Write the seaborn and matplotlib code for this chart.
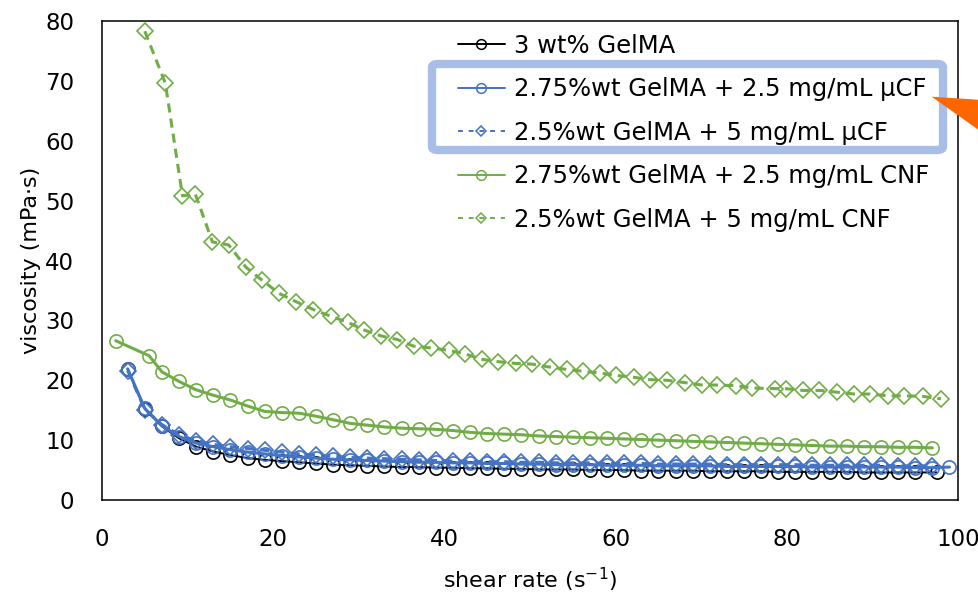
import matplotlib
matplotlib.use('Agg')
import matplotlib.pyplot as plt
import seaborn as sns
import pandas as pd
from matplotlib.lines import Line2D
from matplotlib.patches import FancyBboxPatch, Polygon

# ---------------- data ----------------
labels = ["3 wt% GelMA",
          "2.75%wt GelMA + 2.5 mg/mL µCF",
          "2.5%wt GelMA + 5 mg/mL µCF",
          "2.75%wt GelMA + 2.5 mg/mL CNF",
          "2.5%wt GelMA + 5 mg/mL CNF"]

x_gel = [3, 5, 7, 9, 11, 13, 15, 17, 19, 21, 23, 25, 27, 29, 31, 33, 35, 37, 39, 41, 43, 45, 47, 49,
         51, 53, 55, 57, 59, 61, 63, 65, 67, 69, 71, 73, 75, 77, 79, 81, 83, 85, 87, 89, 91, 93, 95, 97.5]
y_gel = [21.8, 15.2, 12.3, 10.3, 8.9, 8.1, 7.5, 7.0, 6.7, 6.5, 6.3, 6.1, 5.9, 5.8, 5.7, 5.6, 5.5, 5.5,
         5.4, 5.4, 5.3, 5.3, 5.2, 5.2, 5.1, 5.1, 5.1, 5.0, 5.0, 5.0, 4.9, 4.9, 4.9, 4.9, 4.8, 4.8, 4.8,
         4.8, 4.7, 4.7, 4.7, 4.7, 4.7, 4.6, 4.6, 4.6, 4.6, 4.6]

x_ucf25 = [3, 5, 7, 9, 11, 13, 15, 17, 19, 21, 23, 25, 27, 29, 31, 33, 35, 37, 39, 41, 43, 45, 47, 49,
           51, 53, 55, 57, 59, 61, 63, 65, 67, 69, 71, 73, 75, 77, 79, 81, 83, 85, 87, 89, 91, 93, 95, 97, 99]
y_ucf25 = [21.9, 15.3, 12.4, 10.6, 9.5, 8.9, 8.4, 8.0, 7.7, 7.4, 7.2, 7.0, 6.8, 6.7, 6.6, 6.5, 6.4,
           6.3, 6.3, 6.2, 6.2, 6.1, 6.1, 6.0, 6.0, 5.9, 5.9, 5.9, 5.8, 5.8, 5.8, 5.7, 5.7, 5.7, 5.7,
           5.6, 5.6, 5.6, 5.6, 5.6, 5.5, 5.5, 5.5, 5.5, 5.5, 5.5, 5.4, 5.4, 5.5]

x_ucf5 = [3, 5, 7, 9, 11, 13, 15, 17, 19, 21, 23, 25, 27, 29, 31, 33, 35, 37, 39, 41, 43, 45, 47, 49,
          51, 53, 55, 57, 59, 61, 63, 65, 67, 69, 71, 73, 75, 77, 79, 81, 83, 85, 87, 89, 91, 93, 95, 97]
y_ucf5 = [21.6, 15.1, 12.6, 10.9, 9.9, 9.3, 8.9, 8.6, 8.3, 8.0, 7.7, 7.5, 7.3, 7.1, 7.0, 6.9, 6.8,
          6.7, 6.6, 6.5, 6.5, 6.4, 6.4, 6.3, 6.3, 6.2, 6.2, 6.2, 6.1, 6.1, 6.1, 6.0, 6.0, 6.0, 6.0,
          5.9, 5.9, 5.9, 5.9, 5.9, 5.8, 5.8, 5.8, 5.8, 5.8, 5.7, 5.7, 5.7]

x_cnf25 = [1.6, 5.5, 7, 9, 11, 13, 15, 17, 19, 21, 23, 25, 27, 29, 31, 33, 35, 37, 39, 41, 43, 45, 47,
           49, 51, 53, 55, 57, 59, 61, 63, 65, 67, 69, 71, 73, 75, 77, 79, 81, 83, 85, 87, 89, 91, 93, 95, 97]
y_cnf25 = [26.6, 24.1, 21.4, 19.8, 18.4, 17.5, 16.7, 15.7, 14.8, 14.6, 14.5, 14.0, 13.4, 12.8, 12.5,
           12.2, 12.0, 11.9, 11.8, 11.6, 11.3, 11.1, 11.0, 10.9, 10.7, 10.6, 10.5, 10.4, 10.3, 10.2,
           10.1, 10.0, 9.9, 9.8, 9.7, 9.6, 9.5, 9.4, 9.3, 9.2, 9.1, 9.0, 9.0, 8.9, 8.9, 8.8, 8.8, 8.7]

x_cnf5 = [5.0, 7.4, 9.4, 10.9, 12.9, 14.8, 16.8, 18.7, 20.7, 22.7, 24.7, 26.7, 28.7, 30.6, 32.6, 34.5,
          36.4, 38.4, 40.5, 42.4, 44.4, 46.3, 48.4, 50.2, 52.3, 54.3, 56.2, 58.2, 60.1, 62.1, 64.0, 66.0,
          68.1, 70.1, 71.8, 74.1, 75.9, 78.6, 79.9, 81.9, 83.8, 85.9, 87.9, 89.7, 91.8, 93.7, 95.9, 98.0]
y_cnf5 = [78.3, 69.6, 50.8, 51.1, 43.1, 42.6, 38.9, 36.7, 34.5, 33.1, 31.8, 30.7, 29.7, 28.4, 27.4,
          26.8, 25.7, 25.4, 25.0, 24.4, 23.5, 23.1, 22.8, 22.7, 22.2, 21.8, 21.5, 21.2, 20.8, 20.5,
          20.1, 20.0, 19.6, 19.2, 19.2, 19.1, 18.7, 18.6, 18.6, 18.3, 18.3, 18.0, 17.7, 17.7, 17.4,
          17.4, 17.3, 16.9]

x_ticks = [0, 20, 40, 60, 80, 100]
y_ticks = [0, 10, 20, 30, 40, 50, 60, 70, 80]

# ---------------- style ----------------
sns.set_style('white')
plt.rcParams['font.family'] = ['DejaVu Sans']
plt.rcParams['mathtext.fontset'] = 'dejavusans'
plt.rcParams['text.color'] = 'black'
plt.rcParams['axes.labelcolor'] = 'black'
plt.rcParams['xtick.color'] = 'black'
plt.rcParams['ytick.color'] = 'black'

FS_TICK = 16.5
FS_LAB = 16
FS_LEG = 17.5
BLACK = '#000000'
BLUE = '#4472C4'
GREEN = '#70AD47'

W, H = 979, 594
fig = plt.figure(figsize=(W / 100, H / 100), dpi=100)
ax = fig.add_axes([102 / W, 1 - 500 / H, (958 - 102) / W, (500 - 21) / H])

series = [
    (x_gel, y_gel, BLACK, '-', 'o', 1.4, 9.5),
    (x_ucf25, y_ucf25, BLUE, '-', 'o', 2.2, 9.5),
    (x_ucf5, y_ucf5, BLUE, (0, (3, 2)), 'D', 2.2, 8.0),
    (x_cnf25, y_cnf25, GREEN, '-', 'o', 2.2, 9.5),
    (x_cnf5, y_cnf5, GREEN, (0, (3, 2)), 'D', 2.2, 8.0),
]

for (xs, ys, col, ls, mk, lw, ms), lab in zip(series, labels):
    df = pd.DataFrame({'x': xs, 'y': ys})
    sns.lineplot(data=df, x='x', y='y', ax=ax, sort=False, estimator=None,
                 color=col, linestyle=ls, linewidth=lw, marker=mk,
                 markersize=ms, markerfacecolor='none', markeredgecolor=col,
                 markeredgewidth=1.2, legend=False)

ax.set_xlim(0, 100)
ax.set_ylim(0, 80)
ax.set_xticks(x_ticks)
ax.set_yticks(y_ticks)
ax.tick_params(axis='both', direction='in', length=7, width=1.1, color='black',
               labelsize=FS_TICK, labelcolor='black')
ax.tick_params(axis='y', pad=20)
ax.tick_params(axis='x', pad=20)
for s in ax.spines.values():
    s.set_color('black')
    s.set_linewidth(1.1)
    s.set_visible(True)

ax.set_xlabel(r'shear rate (s$^{\mathregular{-1}}$)', fontsize=FS_LAB, color='black', labelpad=11)
ax.set_ylabel('viscosity (mPa·s)', fontsize=FS_LAB, color='black', labelpad=3)

# legend
handles = []
for (xs, ys, col, ls, mk, lw, ms) in series:
    if ls == '-':
        handles.append(Line2D([], [], color=col, linestyle='-', linewidth=1.4, marker=mk,
                              markersize=7, markerfacecolor='none', markeredgecolor=col,
                              markeredgewidth=1.1))
    else:
        handles.append(Line2D([], [], color=col, linestyle=(0, (2.5, 3)), linewidth=1.4, marker=mk,
                              markersize=5.5, markerfacecolor='none', markeredgecolor=col,
                              markeredgewidth=1.1))
leg = ax.legend(handles, labels, loc='upper left',
                bbox_to_anchor=(458 / W, 1 - 34 / H), bbox_transform=fig.transFigure,
                frameon=False, fontsize=FS_LEG, handlelength=1.93, handletextpad=0.37,
                labelspacing=0.80, borderpad=0, borderaxespad=0)
for t in leg.get_texts():
    t.set_color('black')

# highlight box around the µCF entries
box = FancyBboxPatch((432 / W, 1 - 150 / H), (943 - 432) / W, (150 - 64) / H,
                     boxstyle='round,pad=0,rounding_size=0.006', transform=fig.transFigure,
                     facecolor='none', edgecolor='#A8BEE6', linewidth=6, zorder=10)
fig.patches.append(box)

# orange arrow head (cut off at the right edge)
arrow = Polygon([(931.7 / W, 1 - 96.7 / H), (990 / W, 1 - 100.5 / H), (990 / W, 1 - 138 / H)],
                closed=True, transform=fig.transFigure, facecolor='#FF6600',
                edgecolor='none', zorder=11)
fig.patches.append(arrow)

fig.savefig('out.png', dpi=100)
